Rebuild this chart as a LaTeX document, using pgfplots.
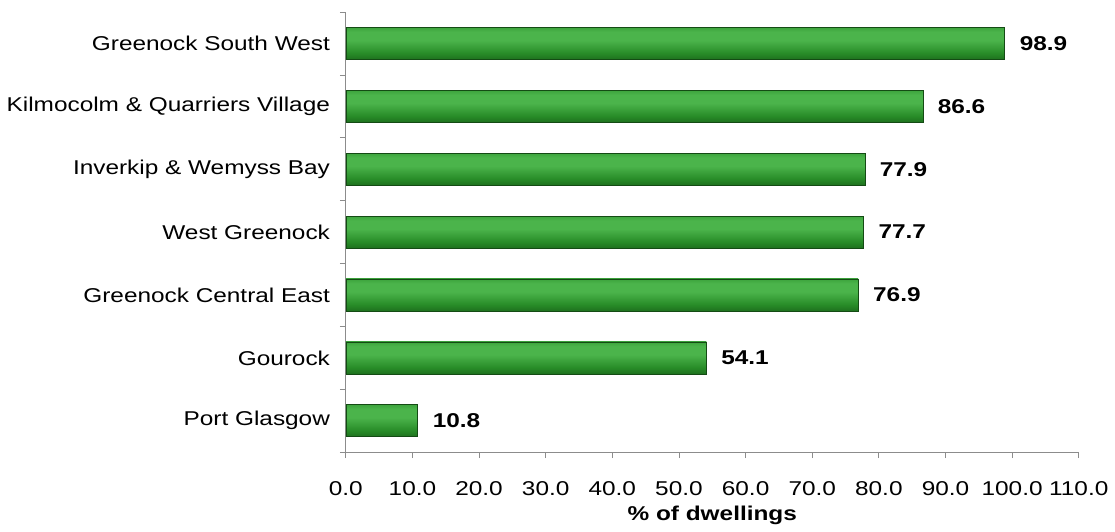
\documentclass[border=0pt]{standalone}
\usepackage{pgfplots}
\pgfplotsset{compat=1.18}
\usepackage{fontspec}
\setmainfont{Liberation Sans}[FakeStretch=1.22]
\definecolor{axgray}{RGB}{140,140,140}
\definecolor{gmid}{RGB}{40,140,40}
\definecolor{glight}{RGB}{75,180,75}
\definecolor{gdark}{RGB}{20,85,20}
\definecolor{gedge}{RGB}{20,75,20}
\pgfdeclareverticalshading{barshade}{100bp}{color(0bp)=(gdark); color(15bp)=(gdark); color(35bp)=(gmid); color(55bp)=(glight); color(68bp)=(glight); color(85bp)=(gmid); color(100bp)=(gmid!85!black)}
\tikzset{mybar/.style={draw=gedge, line width=0.6pt, shading=barshade}}
\begin{document}
\begin{tikzpicture}
\fontsize{20}{24}\selectfont
\begin{axis}[
  scale only axis,
  width=731bp, height=439bp,
  xmin=0, xmax=110,
  ymin=-0.5, ymax=6.5,
  xtick={0,10,...,110},
  xticklabels={0.0,10.0,20.0,30.0,40.0,50.0,60.0,70.0,80.0,90.0,100.0,110.0},
  ytick={-0.5,0.5,...,6.5},
  yticklabels={},
  extra y ticks={0,1,2,3,4,5,6},
  extra y tick labels={Port Glasgow,Gourock,Greenock Central East,West Greenock,Inverkip \& Wemyss Bay,Kilmocolm \& Quarriers Village,Greenock South West},
  extra y tick style={tick style={draw=none}},
  major tick length=6bp,
  tick style={draw=axgray, line width=0.8pt},
  tick align=outside,
  axis x line*=bottom,
  axis y line*=left,
  axis line style={draw=axgray, line width=1.2pt, -},
  xlabel={\textbf{\% of dwellings}},
  xlabel style={font=\fontsize{20}{24}\selectfont, yshift=3bp},
  ticklabel style={font=\fontsize{20}{24}\selectfont},
  xticklabel style={yshift=-16bp},
  yticklabel style={xshift=-3bp},
  xbar,
  bar width=0.51,
  bar shift=0pt,
  nodes near coords,
  nodes near coords style={text=black, font=\fontsize{20}{24}\selectfont\bfseries, /pgf/number format/fixed, /pgf/number format/fixed zerofill, /pgf/number format/precision=1, /pgf/number format/assume math mode=true, xshift=8bp},
  clip=false,
]
\addplot[mybar] coordinates {(10.8,0)};
\addplot[mybar] coordinates {(54.1,1)};
\addplot[mybar] coordinates {(76.9,2)};
\addplot[mybar] coordinates {(77.7,3)};
\addplot[mybar] coordinates {(77.9,4)};
\addplot[mybar] coordinates {(86.6,5)};
\addplot[mybar] coordinates {(98.9,6)};
\end{axis}
\path ([yshift=12bp]current axis.north);
\end{tikzpicture}
\end{document}
